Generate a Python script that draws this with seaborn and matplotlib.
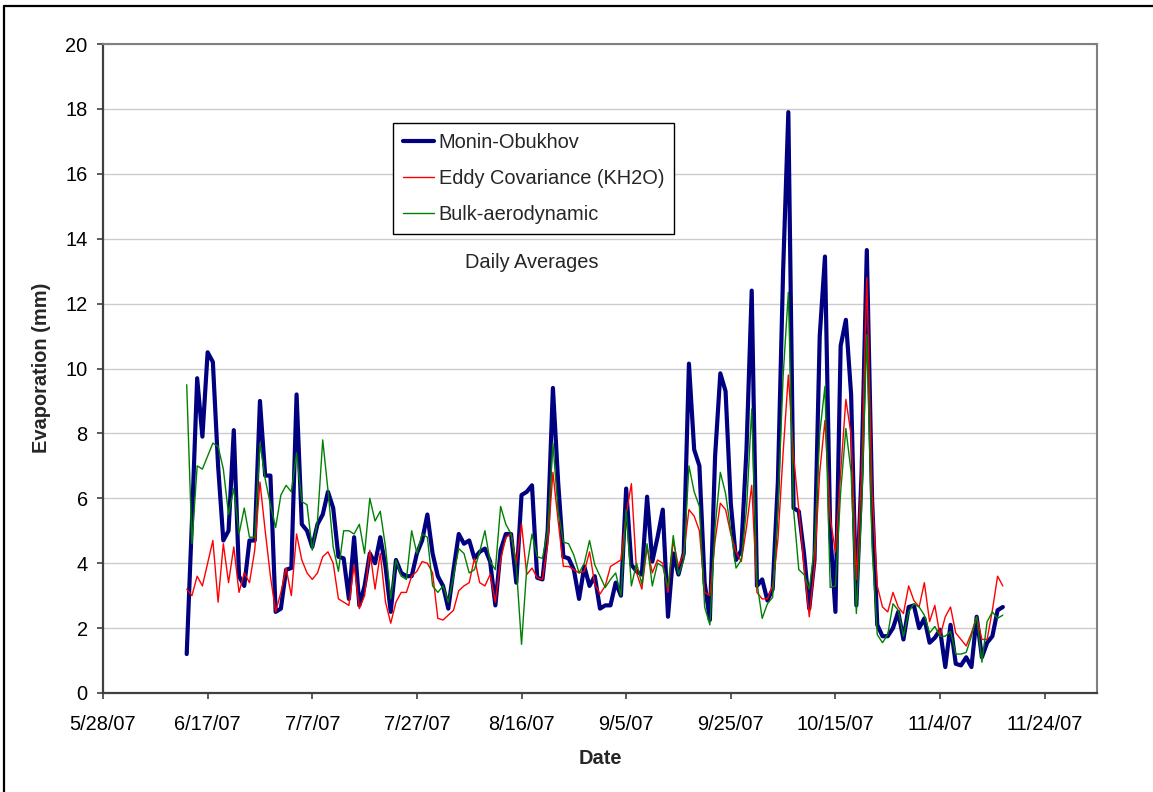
import numpy as np
import pandas as pd
import matplotlib
matplotlib.use("Agg")
import matplotlib.pyplot as plt
from matplotlib.lines import Line2D
import seaborn as sns

# ---------------- data ----------------
start_date = "2007-06-13"
n_days = 157
series_names = ["Monin-Obukhov", "Eddy Covariance (KH2O)", "Bulk-aerodynamic"]

monin = [
    1.2, 5.3, 9.7, 7.9, 10.5, 10.2, 7.0, 4.7, 5.0, 8.1,
    3.6, 3.3, 4.7, 4.7, 9.0, 6.7, 6.7, 2.5, 2.6, 3.8,
    3.85, 9.2, 5.2, 5.0, 4.5, 5.2, 5.5, 6.2, 5.7, 4.2,
    4.15, 2.9, 4.8, 2.7, 3.3, 4.3, 4.0, 4.8, 3.9, 2.5,
    4.1, 3.7, 3.6, 3.6, 4.3, 4.7, 5.5, 4.3, 3.6, 3.3,
    2.6, 3.8, 4.9, 4.6, 4.7, 4.15, 4.35, 4.45, 4.05, 2.7,
    4.4, 4.9, 4.9, 3.4, 6.1, 6.2, 6.4, 3.55, 3.5, 5.0,
    9.4, 6.5, 4.2, 4.15, 3.8, 2.9, 3.9, 3.3, 3.6, 2.6,
    2.7, 2.7, 3.4, 3.0, 6.3, 3.95, 3.75, 3.65, 6.05, 4.05,
    4.8, 5.65, 2.35, 4.3, 3.65, 4.3, 10.15, 7.5, 7.0, 3.4,
    2.25, 7.3, 9.85, 9.3, 5.85, 4.1, 4.4, 7.5, 12.4, 3.3,
    3.5, 2.85, 3.2, 6.5, 13.0, 17.9, 5.7, 5.6, 4.3, 2.6,
    4.1, 11.0, 13.45, 5.0, 2.5, 10.7, 11.5, 9.2, 2.7, 6.8,
    13.65, 6.0, 2.1, 1.75, 1.75, 2.0, 2.5, 1.65, 2.65, 2.7,
    2.0, 2.3, 1.55, 1.7, 1.95, 0.8, 2.1, 0.9, 0.85, 1.1,
    0.8, 2.35, 1.1, 1.55, 1.75, 2.55, 2.65,
]

eddy = [
    3.2, 3.0, 3.6, 3.3, 4.0, 4.7, 2.8, 4.6, 3.4, 4.5,
    3.1, 3.7, 3.4, 4.4, 6.5, 5.0, 3.6, 2.5, 3.1, 3.85,
    3.0, 4.9, 4.1, 3.7, 3.5, 3.7, 4.2, 4.35, 4.0, 2.9,
    2.8, 2.7, 3.95, 2.6, 3.0, 4.4, 3.2, 4.3, 2.8, 2.15,
    2.8, 3.1, 3.1, 3.6, 3.75, 4.05, 4.0, 3.7, 2.3, 2.25,
    2.4, 2.55, 3.15, 3.3, 3.4, 4.15, 3.4, 3.3, 3.65, 2.8,
    4.1, 4.8, 4.9, 4.0, 5.2, 3.65, 3.85, 3.55, 3.5, 4.6,
    6.8, 5.3, 3.9, 3.9, 3.8, 3.7, 3.75, 4.35, 3.35, 3.05,
    3.3, 3.9, 4.0, 4.1, 5.5, 6.45, 3.7, 3.2, 4.5, 3.7,
    4.1, 4.0, 3.1, 4.7, 3.9, 4.3, 5.65, 5.45, 5.0, 3.1,
    3.0, 4.7, 5.85, 5.65, 4.9, 4.35, 4.05, 5.1, 6.4, 3.1,
    2.9, 2.9, 3.3, 4.7, 7.4, 9.8, 7.3, 5.65, 3.9, 2.35,
    3.9, 6.8, 8.4, 5.4, 4.35, 6.8, 9.05, 7.95, 3.5, 6.8,
    12.8, 6.2, 3.3, 2.65, 2.5, 3.1, 2.65, 2.45, 3.3, 2.85,
    2.65, 3.4, 2.2, 2.7, 1.75, 2.35, 2.65, 1.85, 1.65, 1.45,
    1.85, 2.35, 1.65, 1.65, 2.55, 3.6, 3.3,
]

bulk = [
    9.5, 4.6, 7.0, 6.9, 7.3, 7.7, 7.6, 6.9, 5.5, 6.3,
    4.9, 5.7, 4.8, 4.8, 7.7, 6.6, 5.8, 5.1, 6.1, 6.4,
    6.2, 7.4, 5.9, 5.8, 4.4, 5.3, 7.8, 6.25, 4.5, 3.75,
    5.0, 5.0, 4.9, 5.2, 4.3, 6.0, 5.3, 5.6, 4.5, 2.9,
    4.1, 3.6, 3.5, 5.0, 4.3, 4.9, 4.8, 3.3, 3.1, 3.3,
    2.8, 3.6, 4.45, 4.3, 3.7, 3.8, 4.35, 5.0, 4.05, 3.8,
    5.75, 5.2, 4.9, 3.9, 1.5, 3.85, 4.9, 4.2, 4.15, 5.0,
    7.7, 5.6, 4.65, 4.6, 4.25, 3.7, 4.0, 4.7, 3.95, 3.6,
    3.25, 3.5, 3.7, 3.0, 5.65, 3.3, 4.0, 3.35, 4.6, 3.3,
    4.0, 3.9, 3.25, 4.85, 3.65, 4.1, 7.0, 6.2, 5.75, 2.65,
    2.1, 5.1, 6.8, 6.15, 5.0, 3.85, 4.1, 5.65, 8.75, 3.4,
    2.3, 2.75, 2.95, 5.65, 9.75, 12.35, 5.65, 3.8, 3.65, 3.2,
    4.5, 8.0, 9.45, 3.25, 3.3, 6.2, 8.15, 6.8, 2.45, 5.65,
    11.05, 4.5, 1.8, 1.55, 1.8, 2.75, 2.55, 1.75, 2.5, 2.75,
    2.65, 2.4, 1.85, 2.05, 1.75, 1.75, 1.9, 1.2, 1.2, 1.25,
    1.75, 2.35, 0.95, 2.2, 2.5, 2.3, 2.4,
]

tick_dates = ["2007-05-28", "2007-06-17", "2007-07-07", "2007-07-27", "2007-08-16",
              "2007-09-05", "2007-09-25", "2007-10-15", "2007-11-04", "2007-11-24"]
tick_labels = ["5/28/07", "6/17/07", "7/7/07", "7/27/07", "8/16/07",
               "9/5/07", "9/25/07", "10/15/07", "11/4/07", "11/24/07"]
x_range = ["2007-05-28", "2007-12-04"]
y_ticks = [0, 2, 4, 6, 8, 10, 12, 14, 16, 18, 20]

# ---------------- styling ----------------
sns.set_theme(style="white")
plt.rcParams["font.family"] = ["Liberation Sans", "DejaVu Sans"]
FS = 14.4

W, H = 1153, 792
fig = plt.figure(figsize=(W / 100, H / 100), dpi=100)
L, R, T, B = 103, 1097, 44, 693
ax = fig.add_axes([L / W, 1 - B / H, (R - L) / W, (B - T) / H])

dates = pd.date_range(start_date, periods=n_days, freq="D")
df = pd.DataFrame({
    "Date": np.tile(dates, 3),
    "Evaporation": monin + eddy + bulk,
    "Series": np.repeat(series_names, n_days),
})

colors = ["#000080", "#FF0000", "#008000"]
widths = [3.0, 1.0, 1.0]
for name, c, lw in zip(series_names, colors, widths):
    sns.lineplot(data=df[df["Series"] == name], x="Date", y="Evaporation",
                 color=c, linewidth=lw, label=name, ax=ax, zorder=3)

ax.set_xlim(pd.Timestamp(x_range[0]), pd.Timestamp(x_range[1]))
ax.set_ylim(y_ticks[0], y_ticks[-1])
ax.set_xticks(pd.to_datetime(tick_dates))
ax.set_xticklabels(tick_labels)
ax.set_yticks(y_ticks)
ax.set_yticklabels([str(v) for v in y_ticks])

ax.yaxis.grid(True, color="#cccccc", linewidth=1.0, zorder=0)
ax.xaxis.grid(False)
ax.set_axisbelow(True)

for side in ["left", "bottom"]:
    ax.spines[side].set_color("#404040")
    ax.spines[side].set_linewidth(1.6)
for side in ["top", "right"]:
    ax.spines[side].set_color("#808080")
    ax.spines[side].set_linewidth(1.5)
    ax.spines[side].set_visible(True)

ax.tick_params(axis="both", which="major", direction="out", bottom=True, left=True,
               length=4.5, width=1.2, color="#404040", labelsize=FS, labelcolor="black")
ax.tick_params(axis="y", pad=6.5)
ax.tick_params(axis="x", pad=11)

ax.set_xlabel("Date", fontsize=FS, fontweight="bold")
ax.set_ylabel("Evaporation (mm)", fontsize=FS, fontweight="bold")
ax.xaxis.set_label_coords((600 - L) / (R - L), (B - 758) / (B - T))
ax.xaxis.label.set_va("center")
ax.yaxis.set_label_coords((42 - L) / (R - L), (B - 368) / (B - T))
ax.yaxis.label.set_va("center")

leg = ax.legend(loc="upper left",
                bbox_to_anchor=((392.7 - L) / (R - L), (B - 122.7) / (B - T)),
                fontsize=FS, frameon=True, fancybox=False, edgecolor="black",
                framealpha=1, borderpad=0.5, labelspacing=0.85,
                handlelength=1.55, handletextpad=0.25, borderaxespad=0)
leg.get_frame().set_linewidth(1.0)
leg.set_zorder(5)

ax.text((532 - L) / (R - L), (B - 263) / (B - T), "Daily Averages",
        transform=ax.transAxes, ha="center", va="center", fontsize=FS)

# outer chart border (top and left visible)
fig.add_artist(Line2D([4 / W, 1], [1 - 6 / H, 1 - 6 / H], transform=fig.transFigure,
                      color="black", linewidth=1.6))
fig.add_artist(Line2D([4 / W, 4 / W], [0, 1 - 6 / H], transform=fig.transFigure,
                      color="black", linewidth=1.6))

fig.savefig("out.png", dpi=100)
